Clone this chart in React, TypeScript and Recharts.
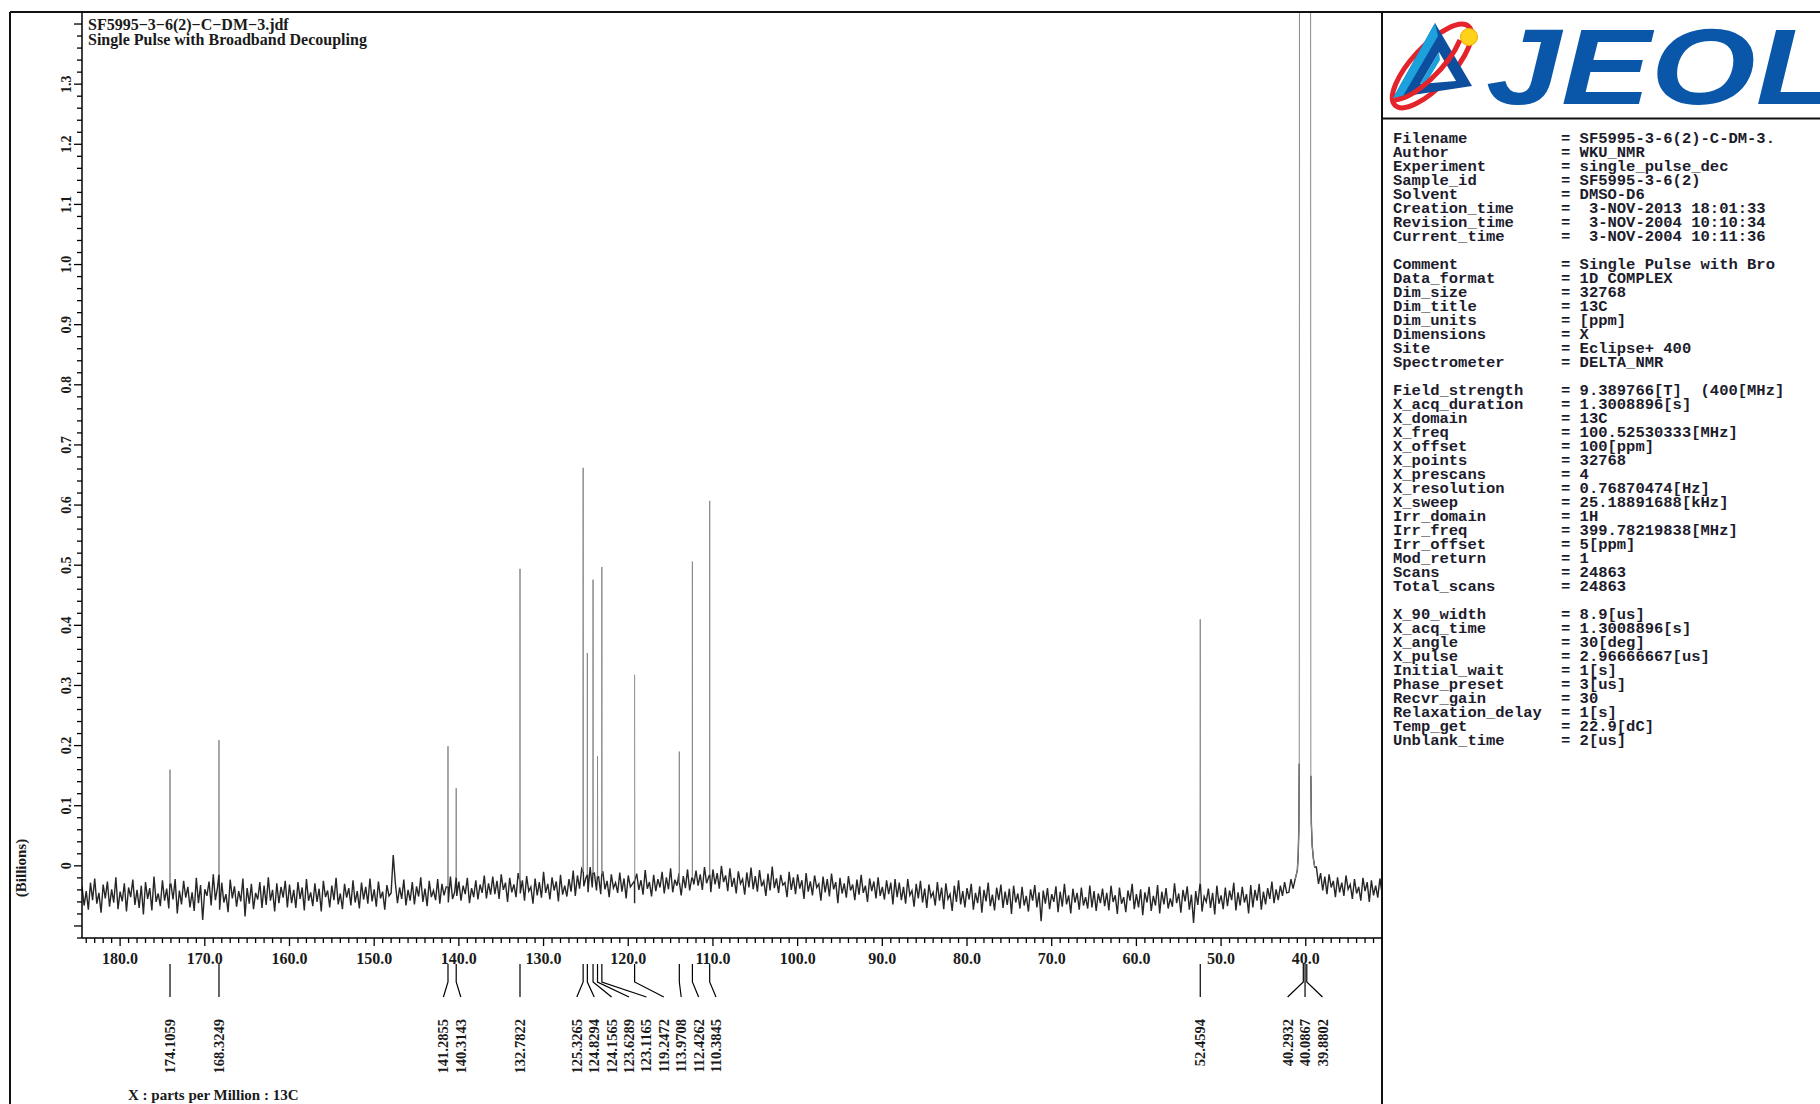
import React from 'react';
import { LineChart, Line, XAxis, YAxis } from 'recharts';

const X_MIN = 31.0;
const X_MAX = 184.5;
const Y_MIN = -0.12;
const Y_MAX = 1.42;

// baseline noise, intensity in millions, read every 0.25 ppm from the run's start
const noise184 = [
  -34, -66, -42, -73, -28, -57, -21, -63, -45, -78,
  -31, -54, -26, -68, -39, -61, -19, -72, -43, -59,
  -29, -76, -36, -52, -23, -65, -40, -70, -33, -81,
  -27, -55, -37, -74, -18, -60, -46, -67, -24, -58,
  -38, -71, -30, -56, -22, -79, -41, -64, -25, -53,
  -35, -69, -44, -75, -20, -62, -32, -90, -39, -50,
  -26, -66, -14, -57, -36, -73, -28, -61, -47, -77,
  -23, -54, -34, -68, -42, -59, -21, -84, -37, -63,
  -30, -72, -45, -56, -27, -70, -33, -65, -19, -58,
  -40, -76, -29, -62, -35, -53, -25, -69,
];
const noise160 = [
  -31, -62, -40, -70, -27, -55, -36, -74, -22, -58,
  -44, -67, -29, -60, -38, -76, -25, -52, -41, -69,
  -33, -57, -20, -64, -46, -72, -30, -53, -37, -66,
  -24, -61, -42, -71, -28, -56, -35, -63, -21, -59,
  -39, -68, -26, -54, -43, -73, -32, -50, -45, 18,
  -29, -62, -36, -55, -23, -66, -40, -58, -27, -64,
  -34, -51, -19, -60, -38, -67, -25, -52, -41, -57,
  -22, -63, -30, -49, -35, -61, -18, -55, -44, -50,
  -26, -58, -33, -47, -20, -62, -37, -52, -24, -56,
  -31, -45, -16, -54, -29, -48,
];
const noise136 = [
  -18, -47, -25, -55, -14, -40, -28, -60, -20, -44,
  -31, -52, -12, -46, -24, -58, -17, -42, -35, -63,
  -21, -49, -27, -53, -10, -45, -30, -56, -19, -41,
  -26, -59, -15, -48, -33, -51, -22, -43, -8, -50,
  -16, -38, -5, -34, -20, -44, -2, -36, -12, -41,
  -18, -47, -9, -39, -25, -52, -14, -37, -28, -45,
  -11, -43, -21, -54, -16, -35, -30, -62, -13, -40,
  -24, -48, -7, -38, -27, -51, -15, -42, -22, -36,
  -10, -46, -19, -39, -4, -44, -23, -33, -12, -49,
  -17, -37, -6, -41, -20, -31,
];
const noise112 = [
  -8, -33, -14, -40, -2, -29, -18, -44, -6, -31,
  -12, -38, 0, -27, -16, -42, -4, -35, -20, -46,
  -9, -30, -22, -48, -11, -36, -3, -39, -17, -43,
  -7, -34, -25, -50, -13, -41, -1, -37, -21, -45,
  -15, -32, -28, -52, -10, -40, -19, -47, -14, -38,
  -24, -55, -12, -43, -26, -49, -16, -36, -30, -58,
  -18, -44, -22, -51, -13, -39, -27, -62, -20, -46,
  -29, -53, -17, -41, -31, -57, -23, -48, -15, -45,
  -33, -60, -21, -42, -26, -54, -19, -50, -35, -56,
  -24, -47, -28, -64, -22, -52,
];
const noise88 = [
  -28, -57, -35, -63, -22, -49, -41, -68, -30, -54,
  -25, -61, -38, -70, -31, -52, -44, -66, -27, -58,
  -36, -72, -29, -55, -47, -75, -33, -60, -24, -64,
  -42, -69, -37, -56, -30, -73, -45, -62, -34, -78,
  -40, -59, -28, -67, -48, -74, -36, -57, -31, -70,
  -43, -65, -38, -80, -33, -61, -46, -71, -35, -66,
  -50, -76, -39, -58, -32, -69, -44, -92, -41, -63,
  -37, -72, -47, -60, -34, -77, -43, -68, -30, -64,
  -49, -79, -38, -61, -45, -73, -36, -66, -52, -71,
  -33, -69, -42, -75, -46, -62,
];
const noise64 = [
  -38, -67, -45, -74, -33, -60, -49, -80, -36, -63,
  -52, -77, -41, -58, -30, -72, -47, -69, -39, -82,
  -44, -61, -35, -75, -50, -66, -32, -79, -43, -64,
  -37, -71, -54, -68, -29, -62, -46, -78, -40, -59,
  -34, -73, -48, -95, -42, -65, -31, -76, -51, -60,
  -38, -70, -45, -81, -33, -63, -49, -72, -36, -67,
  -41, -57, -28, -74, -44, -66, -35, -61, -47, -79,
  -32, -69, -40, -58, -30, -73, -43, -64, -37, -55,
  -26, -62, -39, -57, -33, -50, -27, -45,
];
const noise42 = [-44, -22, -38];
const noise38 = [
  -2, -30, -12, -41, -18, -47, -14, -36, -25, -52,
  -19, -44, -28, -50, -16, -39, -31, -55, -22, -46,
  -35, -58, -20, -42, -27, -60, -24, -49, -33, -53,
  -21, -45,
];
const noiseRuns: Array<[number, number[]]> = [
  [184.5, noise184], [160.0, noise160], [136.0, noise136], [112.0, noise112],
  [88.0, noise88], [64.0, noise64], [42.0, noise42], [38.75, noise38],
];

// solvent shoulders either side of the DMSO-d6 septet [ppm, millions]
const dmsoShoulder: Array<[number, number]> = [
  [41.25, -22], [41.0, -8], [40.9, 15], [40.82, 60], [40.77, 170],
  [39.40, 150], [39.34, 70], [39.25, 35], [39.1, 12], [38.95, -2],
];

// picked peaks
const peakPpm = [174.1059, 168.3249, 141.2855, 140.3143, 132.7822, 125.3265, 124.8294, 124.1565,
  123.6289, 123.1165, 119.2472, 113.9708, 112.4262, 110.3845, 52.4594];
const peakTop = [0.160, 0.209, 0.199, 0.129, 0.494, 0.662, 0.354, 0.476,
  0.182, 0.497, 0.318, 0.190, 0.506, 0.607, 0.410]; // billions
const peakBase = [-30, -15, -35, -20, -25, -10, -15, -12, -18, -14, -25, -28, -20, -15, -30]; // millions

// DMSO-d6 septet, off scale
const dmsoPpm = [40.7062, 40.4997, 40.2932, 40.0867, 39.8802, 39.6737, 39.4672];
const dmsoTop = [3.2, 9.5, 16.0, 18.5, 16.0, 9.5, 3.2];
const dmsoValley = [2.4, 6.8, 12.5, 12.5, 6.8, 2.4];

const labelPpm = [...peakPpm, 40.2932, 40.0867, 39.8802];

const yMajorLabels = [0, 0.1, 0.2, 0.3, 0.4, 0.5, 0.6, 0.7, 0.8, 0.9, 1.0, 1.1, 1.2, 1.3];

const paramKeys = [
  'Filename', 'Author', 'Experiment', 'Sample_id', 'Solvent', 'Creation_time', 'Revision_time', 'Current_time', '',
  'Comment', 'Data_format', 'Dim_size', 'Dim_title', 'Dim_units', 'Dimensions', 'Site', 'Spectrometer', '',
  'Field_strength', 'X_acq_duration', 'X_domain', 'X_freq', 'X_offset', 'X_points', 'X_prescans', 'X_resolution',
  'X_sweep', 'Irr_domain', 'Irr_freq', 'Irr_offset', 'Mod_return', 'Scans', 'Total_scans', '',
  'X_90_width', 'X_acq_time', 'X_angle', 'X_pulse', 'Initial_wait', 'Phase_preset', 'Recvr_gain',
  'Relaxation_delay', 'Temp_get', 'Unblank_time',
];
const paramValues = [
  'SF5995-3-6(2)-C-DM-3.', 'WKU_NMR', 'single_pulse_dec', 'SF5995-3-6(2)', 'DMSO-D6',
  ' 3-NOV-2013 18:01:33', ' 3-NOV-2004 10:10:34', ' 3-NOV-2004 10:11:36', '',
  'Single Pulse with Bro', '1D COMPLEX', '32768', '13C', '[ppm]', 'X', 'Eclipse+ 400', 'DELTA_NMR', '',
  '9.389766[T]  (400[MHz]', '1.3008896[s]', '13C', '100.52530333[MHz]', '100[ppm]', '32768', '4',
  '0.76870474[Hz]', '25.18891688[kHz]', '1H', '399.78219838[MHz]', '5[ppm]', '1', '24863', '24863', '',
  '8.9[us]', '1.3008896[s]', '30[deg]', '2.96666667[us]', '1[s]', '3[us]', '30', '1[s]', '22.9[dC]', '2[us]',
];

type Row = { ppm: number; noise?: number; sig?: number };
const spectrum: Row[] = [];
noiseRuns.forEach(([start, vals]) => {
  vals.forEach((v, i) => spectrum.push({ ppm: start - i * 0.25, noise: v / 1000 }));
});
dmsoShoulder.forEach(([p, v]) => spectrum.push({ ppm: p, noise: v / 1000, sig: v / 1000 }));
peakPpm.forEach((p, i) => {
  const b = peakBase[i] / 1000;
  spectrum.push({ ppm: p + 0.015, noise: b, sig: b });
  spectrum.push({ ppm: p, noise: b, sig: peakTop[i] });
  spectrum.push({ ppm: p - 0.015, noise: b, sig: b });
});
dmsoPpm.forEach((p, i) => {
  spectrum.push({ ppm: p, sig: dmsoTop[i] });
  if (i < dmsoValley.length) spectrum.push({ ppm: p - 0.103, sig: dmsoValley[i] });
});
spectrum.sort((a, b) => b.ppm - a.ppm);

const xTicks = Array.from({ length: 153 }, (_, k) => 184 - k);
const yTicks = Array.from({ length: 78 }, (_, k) => (k * 2 - 12) / 100);

const SERIF = '"Liberation Serif", "Times New Roman", serif';
const MONO = '"Liberation Mono", "Courier New", monospace';
const INK = '#1a1a1a';

const PLOT_LEFT = 82;
const PLOT_RIGHT = 1382;
const PLOT_BOTTOM = 938;
const PLOT_W = PLOT_RIGHT - PLOT_LEFT;
const PX_PER_PPM = PLOT_W / (X_MAX - X_MIN);
const LABEL_GAP = 17.4;

// spread crowded peak labels, then centre each crowded run under its peaks
const labelShift = (() => {
  const xs = labelPpm.map((p) => (X_MAX - p) * PX_PER_PPM);
  const ls: number[] = [];
  xs.forEach((x, i) => ls.push(i === 0 ? x : Math.max(x, ls[i - 1] + LABEL_GAP)));
  let s = 0;
  for (let i = 1; i <= ls.length; i++) {
    if (i === ls.length || ls[i] - ls[i - 1] > LABEL_GAP + 0.01) {
      const e = i - 1;
      if (e > s) {
        const off = (xs[s] + xs[e]) / 2 - (ls[s] + ls[e]) / 2;
        for (let k = s; k <= e; k++) ls[k] += off;
      }
      s = i;
    }
  }
  return ls.map((l, i) => l - xs[i]);
})();

const renderPpmTick = (props: any) => {
  const { x, payload } = props;
  const v = payload.value as number;
  const major = v % 10 === 0;
  return (
    <g>
      <line x1={x} x2={x} y1={PLOT_BOTTOM} y2={PLOT_BOTTOM + (major ? 8 : 5)} stroke="#000" strokeWidth={1.3} />
      {major && v >= 40 && v <= 180 && (
        <text x={x} y={964} textAnchor="middle" fontFamily={SERIF} fontWeight={700} fontSize={16} fill={INK}>
          {v.toFixed(1)}
        </text>
      )}
    </g>
  );
};

const renderPeakTick = (props: any) => {
  const { x, payload } = props;
  const idx = labelPpm.indexOf(payload.value);
  if (idx < 0) return <g />;
  const lx = x + labelShift[idx];
  return (
    <g>
      <path d={`M${x},964 L${x},982 L${lx},997`} fill="none" stroke="#000" strokeWidth={1.2} />
      <text
        transform={`translate(${lx}, 1019) rotate(-90)`}
        textAnchor="end"
        dy="0.35em"
        fontFamily={SERIF}
        fontWeight={700}
        fontSize={14.5}
        fill={INK}
      >
        {labelPpm[idx].toFixed(4)}
      </text>
    </g>
  );
};

const renderIntensityTick = (props: any) => {
  const { y, payload } = props;
  const v = payload.value as number;
  const major = Math.round(v * 100) % 10 === 0;
  const showLabel = yMajorLabels.some((m) => Math.abs(m - v) < 1e-6);
  return (
    <g>
      <line x1={PLOT_LEFT - (major ? 8 : 5)} x2={PLOT_LEFT} y1={y} y2={y} stroke="#000" strokeWidth={1.3} />
      {showLabel && (
        <text
          transform={`translate(66, ${y}) rotate(-90)`}
          textAnchor="middle"
          dy="0.35em"
          fontFamily={SERIF}
          fontWeight={700}
          fontSize={14}
          fill={INK}
        >
          {Math.abs(v) < 1e-6 ? '0' : v.toFixed(1)}
        </text>
      )}
    </g>
  );
};

function Frame() {
  return (
    <svg
      width={1820}
      height={1104}
      style={{ position: 'absolute', left: 0, top: 0, pointerEvents: 'none' }}
    >
      <line x1={10} x2={1820} y1={12} y2={12} stroke="#111" strokeWidth={2} />
      <line x1={10} x2={10} y1={12} y2={1104} stroke="#111" strokeWidth={2} />
      <line x1={PLOT_RIGHT} x2={PLOT_RIGHT} y1={12} y2={1104} stroke="#111" strokeWidth={2} />
      <line x1={PLOT_RIGHT} x2={1820} y1={118.5} y2={118.5} stroke="#111" strokeWidth={2} />
      <line x1={PLOT_LEFT} x2={PLOT_RIGHT} y1={PLOT_BOTTOM} y2={PLOT_BOTTOM} stroke="#000" strokeWidth={1.5} />

      <text x={88} y={30} fontFamily={SERIF} fontWeight={700} fontSize={16} fill={INK}>
        SF5995−3−6(2)−C−DM−3.jdf
      </text>
      <text x={88} y={45} fontFamily={SERIF} fontWeight={700} fontSize={16} fill={INK}>
        Single Pulse with Broadband Decoupling
      </text>
      <text
        transform="translate(21, 868) rotate(-90)"
        textAnchor="middle"
        dy="0.35em"
        fontFamily={SERIF}
        fontWeight={700}
        fontSize={15}
        fill={INK}
      >
        (Billions)
      </text>
      <text x={128} y={1100} fontFamily={SERIF} fontWeight={700} fontSize={15} fill={INK}>
        X : parts per Million : 13C
      </text>

      {/* logo */}
      <ellipse cx={1432} cy={66} rx={54} ry={20} transform="rotate(-47 1432 66)" fill="none" stroke="#e5232b" strokeWidth={5} />
      <polygon points="1435,23 1393,98 1472,86" fill="#0d4f9e" />
      <polygon points="1435,23 1393,98 1403,96 1438,36" fill="#1da1dc" />
      <polygon points="1439,52 1420,84 1456,81" fill="#ffffff" />
      <polygon points="1439,52 1420,84 1426,83 1440,60" fill="#1da1dc" />
      <path d="M1395,100 A54,20 -47 0 0 1460,40" fill="none" stroke="#e5232b" strokeWidth={5} />
      <circle cx={1469} cy={37} r={8.5} fill="#ffd21a" stroke="#f2a900" strokeWidth={1} />
      <text
        x={1486}
        y={104}
        fontFamily='"Liberation Sans", Arial, sans-serif'
        fontWeight={900}
        fontStyle="italic"
        fontSize={108}
        fill="#0a57aa"
        textLength={352}
        lengthAdjust="spacingAndGlyphs"
      >
        JEOL
      </text>

      {paramKeys.map((k, i) =>
        k ? (
          <g key={k}>
            <text x={1393} y={143 + i * 14} fontFamily={MONO} fontWeight={700} fontSize={15.5} fill="#1c1c2c">
              {k}
            </text>
            <text
              x={1561}
              y={143 + i * 14}
              fontFamily={MONO}
              fontWeight={700}
              fontSize={15.5}
              fill="#1c1c2c"
              style={{ whiteSpace: 'pre' }}
            >
              {'= ' + paramValues[i]}
            </text>
          </g>
        ) : null
      )}
    </svg>
  );
}

export default function App() {
  return (
    <div style={{ position: 'absolute', left: 0, top: 0, width: 1820, height: 1104, background: '#fff' }}>
      <LineChart width={1820} height={1104} data={spectrum} margin={{ top: 12, right: 438, bottom: 36, left: 52 }}>
        <XAxis
          xAxisId="ppm"
          type="number"
          dataKey="ppm"
          domain={[X_MIN, X_MAX]}
          reversed
          allowDataOverflow
          ticks={xTicks}
          interval={0}
          tick={renderPpmTick}
          tickLine={false}
          axisLine={false}
          height={30}
        />
        <XAxis
          xAxisId="peaks"
          type="number"
          dataKey="ppm"
          domain={[X_MIN, X_MAX]}
          reversed
          allowDataOverflow
          ticks={labelPpm}
          interval={0}
          tick={renderPeakTick}
          tickLine={false}
          axisLine={false}
          stroke="none"
          height={100}
        />
        <YAxis
          type="number"
          domain={[Y_MIN, Y_MAX]}
          allowDataOverflow
          ticks={yTicks}
          interval={0}
          tick={renderIntensityTick}
          tickLine={false}
          axisLine={{ stroke: '#000', strokeWidth: 1.5 }}
          width={30}
        />
        <Line
          xAxisId="ppm"
          dataKey="noise"
          type="linear"
          stroke="#262626"
          strokeWidth={1.4}
          dot={false}
          connectNulls={false}
          isAnimationActive={false}
        />
        <Line
          xAxisId="ppm"
          dataKey="sig"
          type="linear"
          stroke="#8a8a8a"
          strokeWidth={1}
          dot={false}
          connectNulls={false}
          isAnimationActive={false}
        />
      </LineChart>
      <Frame />
    </div>
  );
}
